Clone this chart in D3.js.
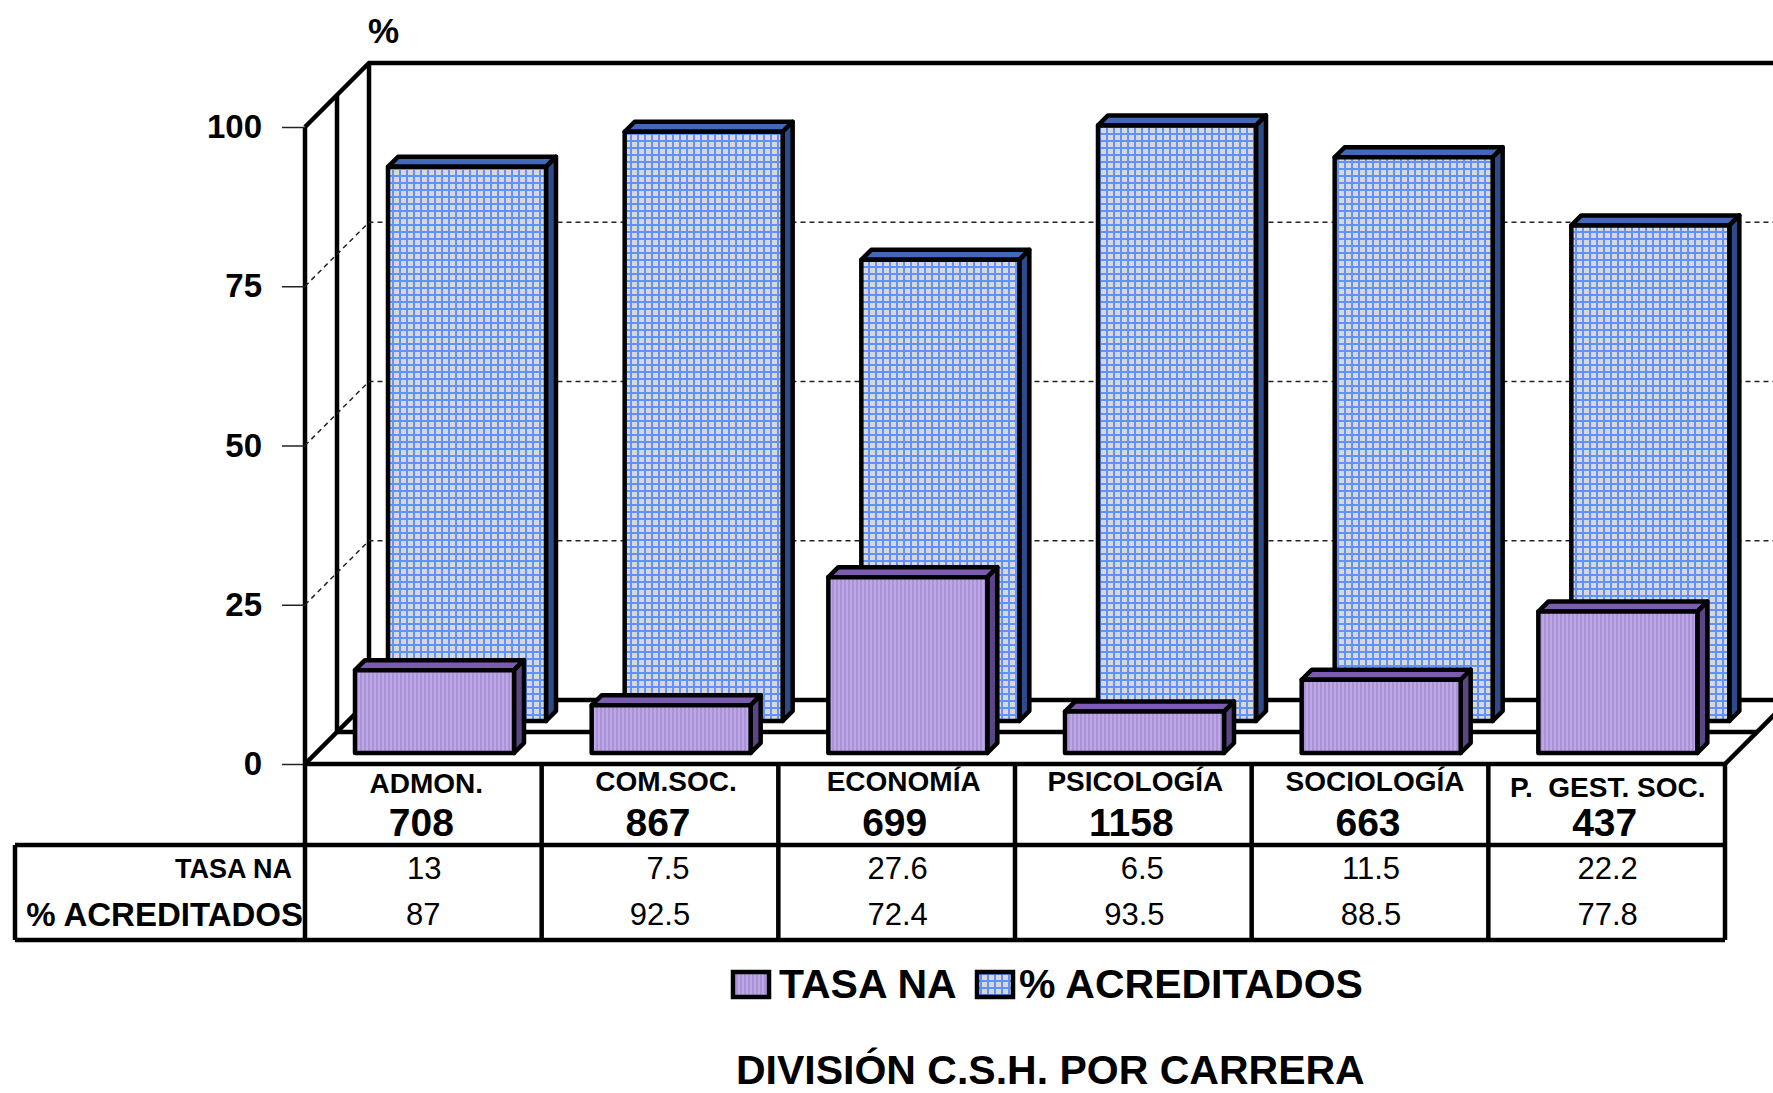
<!DOCTYPE html>
<html>

<head>
    <title>División C.S.H. por carrera</title>
    <script src="https://cdn.jsdelivr.net/npm/d3@7"></script>
    <style>
        html, body { margin: 0; padding: 0; background: #fff; }
        svg { display: block; }
        text { font-family: "Liberation Sans", Arial, sans-serif; fill: #000; }
    </style>
</head>

<body>
    <svg width="1773" height="1093" id="mainsvg"></svg>
    <script>
        const categories = ['ADMON.', 'COM.SOC.', 'ECONOMÍA', 'PSICOLOGÍA', 'SOCIOLOGÍA', 'P.  GEST. SOC.'];
        const totals = [708, 867, 699, 1158, 663, 437];
        const tasaNa = [13, 7.5, 27.6, 6.5, 11.5, 22.2];
        const acreditados = [87, 92.5, 72.4, 93.5, 88.5, 77.8];
        const yTicks = [0, 25, 50, 75, 100];
        const seriesNames = ['TASA NA', '% ACREDITADOS'];

        const svg = d3.select('svg');
        const width = +svg.attr('width');

        // plot frame: front floor edge, wall depth, table rows
        const left = 305, right = 1725, floorY = 764, topY = 127;
        const wallDepth = 64, midDepth = 32, barDepth = 10;
        const rowCat = 845, rowEnd = 940, tableLeft = 15;

        const x = d3.scaleBand().domain(categories).range([left, right]);
        const y = d3.scaleLinear().domain([0, 100]).range([floorY, topY]);
        const line = d3.line();

        // hatch fills
        const defs = svg.append('defs');
        const grid = defs.append('pattern').attr('id', 'gridFill')
            .attr('patternUnits', 'userSpaceOnUse').attr('width', 7).attr('height', 7);
        grid.append('rect').attr('width', 7).attr('height', 7).attr('fill', '#d8d8d8');
        grid.append('path').attr('d', 'M0 1H7M1 0V7').attr('stroke', '#5f92ff').attr('stroke-width', 2);
        const stripe = defs.append('pattern').attr('id', 'stripeFill')
            .attr('patternUnits', 'userSpaceOnUse').attr('width', 4).attr('height', 4);
        stripe.append('rect').attr('width', 4).attr('height', 4).attr('fill', '#bda8e6');
        stripe.append('rect').attr('width', 2).attr('height', 4).attr('fill', '#ab92d8');

        // walls
        const walls = svg.append('g').attr('fill', 'none').attr('stroke', '#000').attr('stroke-width', 4.5);
        const wallX = left + wallDepth;
        walls.append('path').attr('d', line([[left, y(100)], [wallX, y(100) - wallDepth], [width + 5, y(100) - wallDepth]]));
        walls.append('path').attr('d', line([[left, y(100)], [left, y(0)]]));
        walls.append('path').attr('d', line([[left + midDepth, y(100) - midDepth], [left + midDepth, y(0) - midDepth]]));
        walls.append('path').attr('d', line([[wallX, y(100) - wallDepth], [wallX, y(0) - wallDepth]]));
        walls.append('path').attr('d', line([[left, y(0)], [wallX, y(0) - wallDepth], [width + 5, y(0) - wallDepth]]));
        walls.append('path').attr('d', line([[left + midDepth, y(0) - midDepth], [right + midDepth, y(0) - midDepth]]));
        walls.append('path').attr('d', line([[right, y(0)], [right + wallDepth, y(0) - wallDepth]]));

        // dashed grid
        const gridLines = svg.append('g').attr('fill', 'none').attr('stroke', '#222')
            .attr('stroke-width', 1.5).attr('stroke-dasharray', '5,4');
        gridLines.selectAll('path').data(yTicks.filter(d => d > 0 && d < 100)).join('path')
            .attr('d', d => line([[left, y(d)], [wallX, y(d) - wallDepth], [width + 5, y(d) - wallDepth]]));

        // y axis
        const axis = svg.append('g').attr('transform', `translate(${left},0)`)
            .call(d3.axisLeft(y).tickValues(yTicks).tickSize(23).tickPadding(20));
        axis.select('.domain').remove();
        axis.selectAll('.tick line').attr('stroke', '#222').attr('stroke-width', 1.5);
        axis.selectAll('.tick text').attr('font-size', 33).attr('font-weight', 'bold')
            .style('font-family', '"Liberation Sans"');
        svg.append('text').attr('x', 368).attr('y', 43).attr('font-size', 35).attr('font-weight', 'bold').text('%');

        // 3d bars
        function drawBars(values, cls, dx, baseShift, barW, fill, topFill, sideFill) {
            const g = svg.append('g').attr('class', cls)
                .attr('stroke', '#000').attr('stroke-width', 4.5).attr('stroke-linejoin', 'round');
            const groups = g.selectAll('g').data(values).join('g');
            const x0 = (d, i) => x(categories[i]) + dx;
            const yt = d => y(d) - baseShift;
            const yb = y(0) - baseShift;
            groups.append('path').attr('fill', topFill).attr('d', (d, i) => line([
                [x0(d, i), yt(d)], [x0(d, i) + barDepth, yt(d) - barDepth],
                [x0(d, i) + barW + barDepth, yt(d) - barDepth], [x0(d, i) + barW, yt(d)]]) + 'Z');
            groups.append('path').attr('fill', sideFill).attr('d', (d, i) => line([
                [x0(d, i) + barW, yt(d)], [x0(d, i) + barW + barDepth, yt(d) - barDepth],
                [x0(d, i) + barW + barDepth, yb - barDepth], [x0(d, i) + barW, yb]]) + 'Z');
            groups.append('rect').attr('fill', fill)
                .attr('x', x0).attr('y', yt).attr('width', barW).attr('height', d => yb - yt(d));
        }
        drawBars(acreditados, 'backBars', 83, 43, 158, 'url(#gridFill)', '#4169b8', '#2f4a8a');
        drawBars(tasaNa, 'frontBars', 50, 11, 159, 'url(#stripeFill)', '#7c5cb0', '#5a4585');

        // data table
        const table = svg.append('g').attr('fill', 'none').attr('stroke', '#000').attr('stroke-width', 4.5);
        table.append('path').attr('d', line([[left, floorY], [right, floorY]]));
        table.append('path').attr('d', line([[tableLeft, rowCat], [right, rowCat]]));
        table.append('path').attr('d', line([[tableLeft, rowEnd], [right, rowEnd]]));
        table.append('path').attr('d', line([[tableLeft, rowCat], [tableLeft, rowEnd]]));
        table.selectAll('.col').data([...categories.map(c => x(c)), right]).join('path')
            .attr('class', 'col').attr('d', d => line([[d, floorY], [d, rowEnd]]));

        const cx = d => x(d) + x.bandwidth() / 2;
        const catNudge = [3, 6, 7, 2, 5, 1];
        const naNudge = [1, 8, 1, 9, 1, 1];
        const acNudge = [0, 0, 1, 1, 1, 1];
        const catBase = [793, 791, 791, 791, 791, 797];

        svg.append('g').selectAll('text').data(categories).join('text')
            .attr('x', (d, i) => cx(d) + catNudge[i]).attr('y', (d, i) => catBase[i])
            .attr('text-anchor', 'middle').attr('font-size', 28).attr('font-weight', 'bold')
            .attr('xml:space', 'preserve').style('white-space', 'pre').text(d => d);
        svg.append('g').selectAll('text').data(totals).join('text')
            .attr('x', (d, i) => cx(categories[i]) - 2).attr('y', 836)
            .attr('text-anchor', 'middle').attr('font-size', 39).attr('font-weight', 'bold').text(d => d);
        svg.append('g').selectAll('text').data(tasaNa).join('text')
            .attr('x', (d, i) => cx(categories[i]) + naNudge[i]).attr('y', 879)
            .attr('text-anchor', 'middle').attr('font-size', 31).text(d => d);
        svg.append('g').selectAll('text').data(acreditados).join('text')
            .attr('x', (d, i) => cx(categories[i]) + acNudge[i]).attr('y', 925)
            .attr('text-anchor', 'middle').attr('font-size', 31).text(d => d);
        svg.append('text').attr('x', 292).attr('y', 878).attr('text-anchor', 'end')
            .attr('font-size', 27).attr('font-weight', 'bold').text(seriesNames[0]);
        svg.append('text').attr('x', 303).attr('y', 926).attr('text-anchor', 'end')
            .attr('font-size', 33).attr('font-weight', 'bold').text(seriesNames[1]);

        // legend
        const legendItems = [
            { name: seriesNames[0], fill: 'url(#stripeFill)', sx: 733, tx: 779 },
            { name: seriesNames[1], fill: 'url(#gridFill)', sx: 977, tx: 1019 }
        ];
        const legend = svg.append('g').selectAll('g').data(legendItems).join('g');
        legend.append('rect').attr('x', d => d.sx).attr('y', 972).attr('width', 36).attr('height', 25)
            .attr('fill', d => d.fill).attr('stroke', '#000').attr('stroke-width', 4.5);
        legend.append('text').attr('x', d => d.tx).attr('y', 998)
            .attr('font-size', 41).attr('font-weight', 'bold').text(d => d.name);

        svg.append('text').attr('x', 736).attr('y', 1084).attr('font-size', 41).attr('font-weight', 'bold')
            .text('DIVISIÓN C.S.H. POR CARRERA');
    </script>
</body>

</html>
